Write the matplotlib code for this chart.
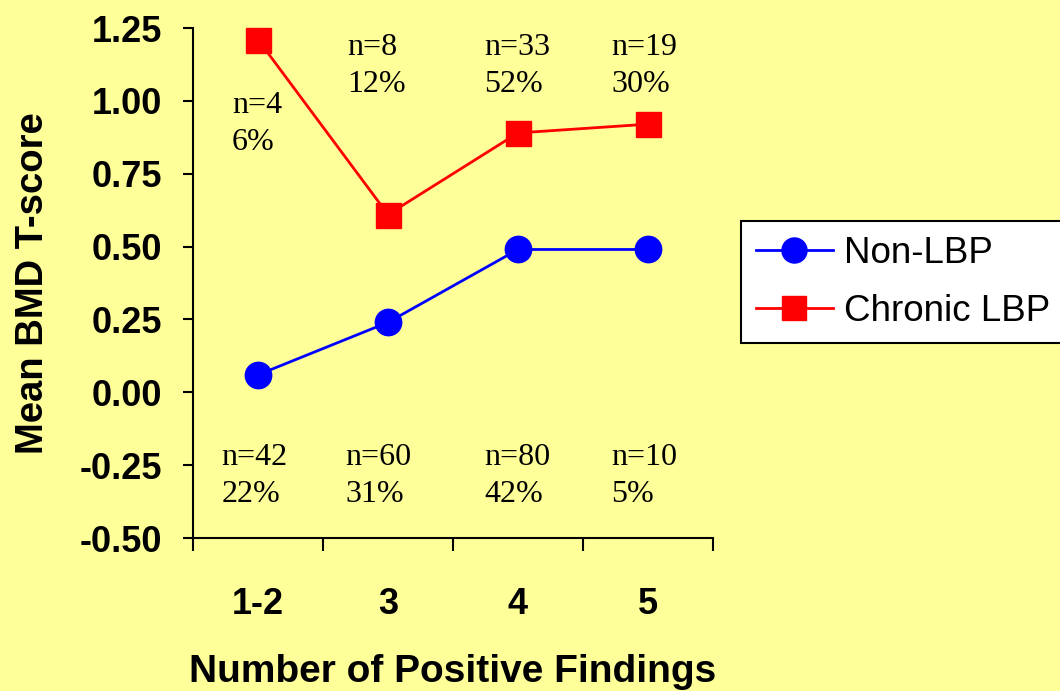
import matplotlib
matplotlib.use("Agg")
import matplotlib.pyplot as plt
from matplotlib.ticker import FixedLocator

# Mean BMD T-score by number of positive findings
categories = ["1-2", "3", "4", "5"]
non_lbp = [0.06, 0.24, 0.49, 0.49]
chronic_lbp = [1.21, 0.61, 0.89, 0.92]

# group sizes shown above / below the lines
chronic_n = ["n=4", "n=8", "n=33", "n=19"]
chronic_pct = ["6%", "12%", "52%", "30%"]
non_n = ["n=42", "n=60", "n=80", "n=10"]
non_pct = ["22%", "31%", "42%", "5%"]

bg = "#FFFF99"
sans = ["Liberation Sans", "Arial", "DejaVu Sans"]
serif = ["Liberation Serif", "Times New Roman", "DejaVu Serif"]

fig = plt.figure(figsize=(10.6, 6.91), dpi=100, facecolor=bg)
ax = fig.add_axes([193 / 1060, 1 - 538 / 691, 520 / 1060, 510 / 691])
ax.set_facecolor(bg)

x = list(range(1, len(categories) + 1))
ax.plot(x, non_lbp, color="blue", lw=2, marker="o", ms=19,
        mfc="blue", mec="blue", label="Non-LBP", clip_on=False, zorder=3)
ax.plot(x, chronic_lbp, color="red", lw=2, marker="s", ms=18,
        mfc="red", mec="red", label="Chronic LBP", clip_on=False, zorder=3)

ax.set_xlim(0.5, len(categories) + 0.5)
ax.set_ylim(-0.5, 1.25)

# category labels sit between the boundary ticks
ax.set_xticks(x)
ax.set_xticklabels(categories)
ax.xaxis.set_minor_locator(FixedLocator([i + 0.5 for i in range(len(categories) + 1)]))
ax.tick_params(axis="x", which="major", length=0, pad=35)
ax.tick_params(axis="x", which="minor", length=9, width=1.5, direction="out")
yticks = [1.25, 1.0, 0.75, 0.5, 0.25, 0.0, -0.25, -0.5]
ax.set_yticks(yticks)
ax.set_yticklabels(["%.2f" % v for v in yticks])
ax.tick_params(axis="y", length=7.5, width=1.5, pad=15)
for lbl in ax.get_xticklabels() + ax.get_yticklabels():
    lbl.set_fontfamily(sans)
    lbl.set_fontweight("bold")
    lbl.set_fontsize(26)

for side in ["top", "right"]:
    ax.spines[side].set_visible(False)
for side in ["left", "bottom"]:
    ax.spines[side].set_linewidth(1.5)

ax.set_xlabel("Number of Positive Findings", fontsize=28, fontweight="bold",
              family=sans, labelpad=23.5)
ax.set_ylabel("Mean BMD T-score", fontsize=27.5, fontweight="bold",
              family=sans, labelpad=20)

# sample size annotations
top_pos = [(0.80, 0.92), (1.69, 1.12), (2.74, 1.12), (3.72, 1.12)]
for (tx, ty), n, p in zip(top_pos, chronic_n, chronic_pct):
    ax.text(tx, ty, n + "\n" + p, ha="left", va="center", fontsize=23,
            family=serif, linespacing=1.38)
bot_pos = [(0.72, -0.287), (1.67, -0.287), (2.74, -0.287), (3.72, -0.287)]
for (tx, ty), n, p in zip(bot_pos, non_n, non_pct):
    ax.text(tx, ty, n + "\n" + p, ha="left", va="center", fontsize=23,
            family=serif, linespacing=1.38)

leg = ax.legend(loc="upper left", bbox_to_anchor=(741 / 1060, 1 - 221 / 691),
                bbox_transform=fig.transFigure, borderaxespad=0,
                prop={"family": sans, "size": 26.5}, frameon=True, fancybox=False,
                edgecolor="black", facecolor="white", framealpha=1,
                handlelength=2.1, handletextpad=0.3, borderpad=0.4,
                labelspacing=0.62, markerscale=0.95)
leg.get_frame().set_linewidth(1.5)

fig.savefig("out.png", dpi=100, facecolor=bg)
